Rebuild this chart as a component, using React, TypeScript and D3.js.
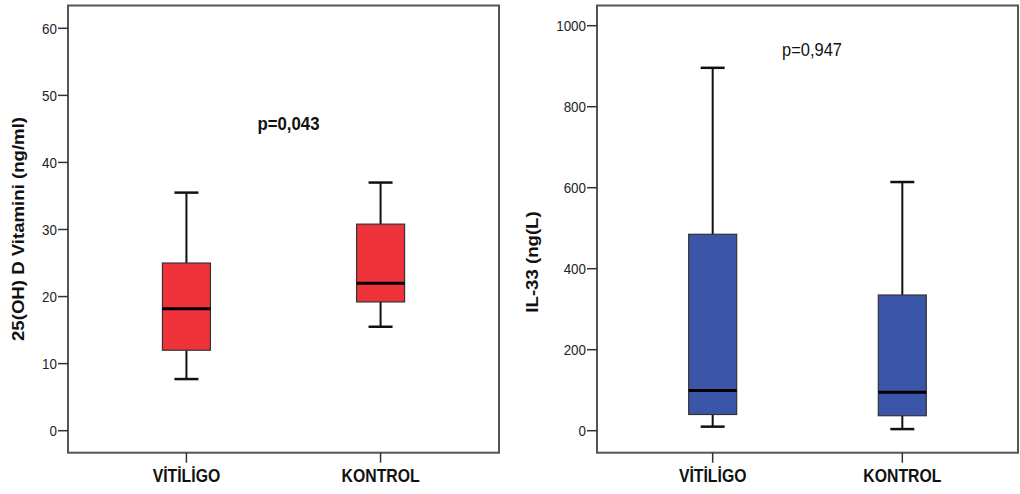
import React from "react";
import * as d3 from "d3";

const categories = ["VİTİLİGO", "KONTROL"];
// [min, q1, median, q3, max]
const vitaminD = [
  [7.7, 12.0, 18.2, 25.0, 35.5],
  [15.5, 19.2, 22.0, 30.8, 37.0],
];
const il33 = [
  [10, 40, 99, 485, 896],
  [4, 37, 95, 335, 614],
];
const vitTicks = [0, 10, 20, 30, 40, 50, 60];
const ilTicks = [0, 200, 400, 600, 800, 1000];

type PanelProps = {
  x0: number;
  x1: number;
  domain: [number, number];
  yTop: number;
  ticks: number[];
  data: number[][];
  fill: string;
  yLabel: string;
  labelX: number;
  labelY: number;
  pText: string;
  pX: number;
  pY: number;
  pBold: boolean;
  pSize: number;
};

const top = 5.5;
const bottom = 452.7;
const y0px = 430.7;
const K = 1.15;
const font = "'Liberation Sans', Arial, sans-serif";

function Panel(p: PanelProps) {
  const y = d3.scaleLinear().domain(p.domain).range([y0px, p.yTop]);
  const x = d3.scalePoint<string>().domain(categories).range([p.x0, p.x1]).padding(0.61);
  const bw = 48;
  const cw = 24;
  return (
    <g>
      {p.data.map((d, i) => {
        const cx = x(categories[i])!;
        const [mn, q1, md, q3, mx] = d;
        return (
          <g key={i}>
            <line x1={cx} x2={cx} y1={y(mx)} y2={y(q3)} stroke="#111" strokeWidth={2} />
            <line x1={cx} x2={cx} y1={y(q1)} y2={y(mn)} stroke="#111" strokeWidth={2} />
            <line x1={cx - cw / 2} x2={cx + cw / 2} y1={y(mx)} y2={y(mx)} stroke="#111" strokeWidth={2.5} />
            <line x1={cx - cw / 2} x2={cx + cw / 2} y1={y(mn)} y2={y(mn)} stroke="#111" strokeWidth={2.5} />
            <rect x={cx - bw / 2} y={y(q3)} width={bw} height={y(q1) - y(q3)} fill={p.fill} stroke="#333" strokeWidth={1.2} />
            <line x1={cx - bw / 2} x2={cx + bw / 2} y1={y(md)} y2={y(md)} stroke="#000" strokeWidth={3} />
          </g>
        );
      })}
      <rect x={p.x0} y={top} width={p.x1 - p.x0} height={bottom - top} fill="none" stroke="#555" strokeWidth={2} />
      {p.ticks.map((t) => (
        <g key={t}>
          <line x1={p.x0 - 10} x2={p.x0} y1={y(t)} y2={y(t)} stroke="#333" strokeWidth={1.5} />
          <text
            transform={`translate(${p.x0 - 11},${y(t)}) scale(1,${K})`}
            dy="0.35em"
            textAnchor="end"
            fontSize={13.4}
            fontFamily={font}
            fill="#222"
          >
            {t}
          </text>
        </g>
      ))}
      {categories.map((c) => (
        <g key={c}>
          <line x1={x(c)} x2={x(c)} y1={bottom} y2={bottom + 10} stroke="#333" strokeWidth={1.5} />
          <text
            transform={`translate(${x(c)},482) scale(1,${K})`}
            textAnchor="middle"
            fontSize={15.8}
            fontWeight="bold"
            fontFamily={font}
            fill="#111"
          >
            {c}
          </text>
        </g>
      ))}
      <text
        transform={`translate(${p.labelX},${p.labelY}) scale(1,${K}) rotate(-90)`}
        textAnchor="middle"
        dy="0.35em"
        fontSize={16.2}
        fontWeight="bold"
        fontFamily={font}
        fill="#111"
      >
        {p.yLabel}
      </text>
      <text
        transform={`translate(${p.pX},${p.pY}) scale(1,1.08)`}
        dy="0.35em"
        textAnchor="middle"
        fontSize={p.pSize}
        fontWeight={p.pBold ? "bold" : "normal"}
        fontFamily={font}
        fill="#111"
      >
        {p.pText}
      </text>
    </g>
  );
}

export default function App() {
  return (
    <svg width={1020} height={494} style={{ position: "fixed", left: 0, top: 0, background: "#fff" }}>
      <rect width={1020} height={494} fill="#fff" />
      <Panel
        x0={68}
        x1={499}
        domain={[0, 60]}
        yTop={28.3}
        ticks={vitTicks}
        data={vitaminD}
        fill="#EE333B"
        yLabel="25(OH) D Vitamini (ng/ml)"
        labelX={18.5}
        labelY={229}
        pText="p=0,043"
        pX={288.5}
        pY={123.5}
        pBold={true}
        pSize={16.8}
      />
      <Panel
        x0={597}
        x1={1018}
        domain={[0, 1000]}
        yTop={25.7}
        ticks={ilTicks}
        data={il33}
        fill="#3B55A8"
        yLabel="IL-33 (ng(L)"
        labelX={532}
        labelY={262}
        pText="p=0,947"
        pX={812}
        pY={49.5}
        pBold={false}
        pSize={16.5}
      />
    </svg>
  );
}
